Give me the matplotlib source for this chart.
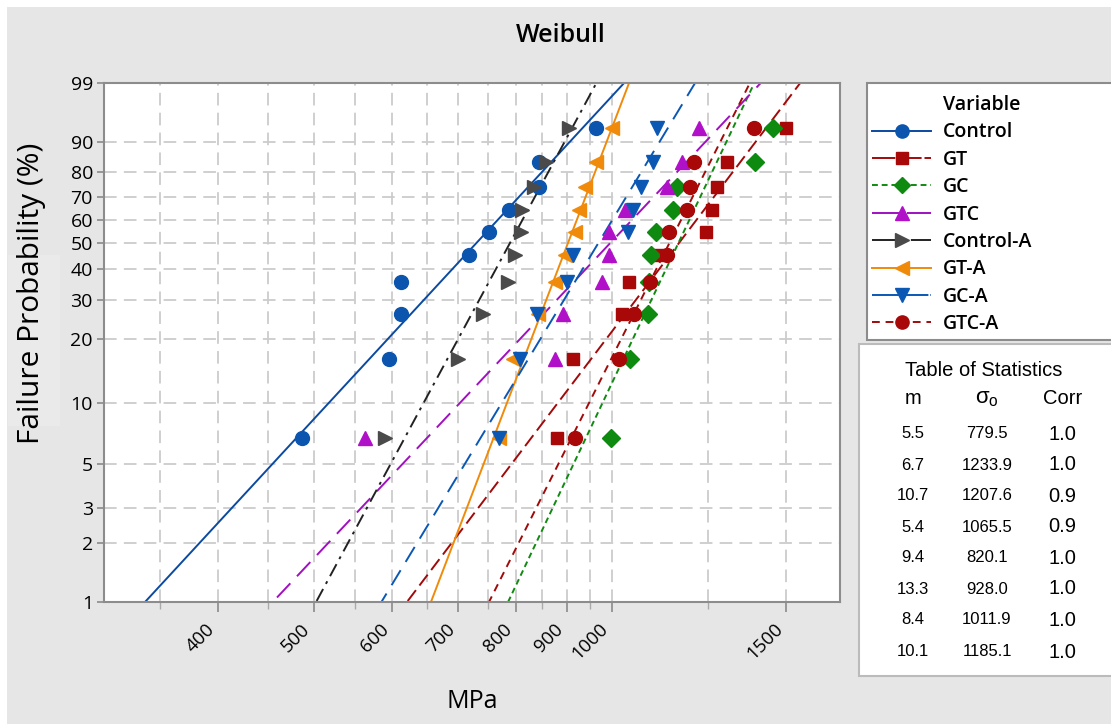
import numpy as np
import matplotlib
matplotlib.use('Agg')
import matplotlib.pyplot as plt
from matplotlib.lines import Line2D
from matplotlib.patches import Rectangle
from matplotlib.ticker import FixedLocator, FixedFormatter, NullFormatter

# ---------------- data ----------------
variables = ['Control', 'GT', 'GC', 'GTC', 'Control-A', 'GT-A', 'GC-A', 'GTC-A']
prob = [6.7, 16.3, 26.0, 35.6, 45.2, 54.8, 64.4, 74.0, 83.7, 93.3]
control = [486, 596, 612, 612, 718, 752, 787, 845, 845, 965]
gt = [880, 913, 1023, 1040, 1117, 1245, 1262, 1276, 1306, 1500]
gc = [997, 1043, 1088, 1091, 1095, 1107, 1154, 1164, 1394, 1455]
gtc = [563, 876, 893, 977, 993, 993, 1030, 1137, 1176, 1224]
control_a = [590, 700, 741, 786, 799, 810, 812, 835, 858, 906]
gt_a = [769, 794, 843, 877, 897, 918, 927, 940, 963, 1000]
gc_a = [770, 808, 841, 901, 913, 1038, 1051, 1069, 1100, 1111]
gtc_a = [917, 1016, 1054, 1094, 1138, 1141, 1190, 1200, 1212, 1392]
shape_m = [5.5, 6.7, 10.7, 5.4, 9.4, 13.3, 8.4, 10.1]
scale_s0 = [779.5, 1233.9, 1207.6, 1065.5, 820.1, 928.0, 1011.9, 1185.1]
corr = [1.0, 1.0, 0.9, 0.9, 1.0, 1.0, 1.0, 1.0]
x_major = [400, 500, 600, 700, 800, 900, 1000, 1500]
x_minor = [350, 450, 550, 650, 750, 850, 950, 1250]
y_ticks = [1, 2, 3, 5, 10, 20, 30, 40, 50, 60, 70, 80, 90, 99]

series = [control, gt, gc, gtc, control_a, gt_a, gc_a, gtc_a]

# ---------------- styles ----------------
marker_colors = ['#0B55AE', '#A80808', '#0E8A10', '#B010C8', '#4A4A4A', '#F08A0A', '#0B58B4', '#A80808']
line_colors = ['#0B4AA0', '#A00A0A', '#108A10', '#A010C0', '#222222', '#F08A0A', '#0B58B4', '#A00A0A']
markers = ['o', 's', 'D', '^', '>', '<', 'v', 'o']
msizes = [10, 9, 9, 10.5, 10.5, 10.5, 10.5, 10]
dashes = [None, (7, 3), (3, 2), (10, 5), (7, 3, 1.5, 3), None, (9, 5), (4, 3)]
leg_dashes = [None, (12, 1.5), (3, 2), (14, 4), (14, 2, 2, 2), None, (14, 1), (4, 3)]

plt.rcParams['font.family'] = ['Open Sans', 'DejaVu Sans']

W, H = 1111, 724
fig = plt.figure(figsize=(W / 100, H / 100), dpi=100, facecolor='white')

def fx(px):
    return px / W

def fy(py):
    return 1 - py / H

# gray background with white strip on top/left
fig.patches.append(Rectangle((fx(7), 0), 1 - fx(7), fy(7), transform=fig.transFigure,
                             facecolor='#E6E6E6', edgecolor='none', zorder=-10))
fig.patches.append(Rectangle((fx(8), fy(426)), fx(52), fy(255) - fy(426), transform=fig.transFigure,
                             facecolor='#EAEAEA', edgecolor='none', zorder=-9))

ax = fig.add_axes([fx(104), fy(602), fx(840) - fx(104), fy(83) - fy(602)])
ax.set_facecolor('white')


def fwd(p):
    p = np.clip(np.asarray(p, dtype=float), 1e-6, 100 - 1e-6)
    return np.log(-np.log(1 - p / 100.0))


def inv(y):
    return 100.0 * (1 - np.exp(-np.exp(np.asarray(y, dtype=float))))


ax.set_xscale('log')
ax.set_yscale('function', functions=(fwd, inv))
ax.set_xlim(307, 1700)
ax.set_ylim(1, 99)

# grid
for v in sorted(x_major + x_minor):
    ax.axvline(v, color='#CCCCCC', lw=1.3, dashes=(7, 4), zorder=0)
for v in y_ticks[1:-1]:
    ax.axhline(v, color='#CCCCCC', lw=1.3, dashes=(7, 4), zorder=0)

# fitted lines
p_line = np.concatenate([np.linspace(0.2, 99, 300), [99.5, 99.9]])
for i in range(len(variables)):
    xs = scale_s0[i] * (-np.log(1 - p_line / 100.0)) ** (1.0 / shape_m[i])
    ln, = ax.plot(xs, p_line, color=line_colors[i], lw=1.4, zorder=2)
    if dashes[i] is not None:
        ln.set_dashes(dashes[i])

# points
for i, vals in enumerate(series):
    ax.plot(vals, prob, ls='none', marker=markers[i], ms=msizes[i],
            color=marker_colors[i], mec=marker_colors[i], zorder=3)

# ticks
ax.xaxis.set_major_locator(FixedLocator(x_major))
ax.xaxis.set_major_formatter(FixedFormatter([str(v) for v in x_major]))
ax.xaxis.set_minor_locator(FixedLocator(x_minor))
ax.xaxis.set_minor_formatter(NullFormatter())
ax.yaxis.set_major_locator(FixedLocator(y_ticks))
ax.yaxis.set_major_formatter(FixedFormatter([str(v) for v in y_ticks]))
ax.yaxis.set_minor_locator(FixedLocator([]))
ax.tick_params(axis='x', which='major', length=7, width=1.2, color='#8A8A8A',
               labelsize=13.5, pad=6)
ax.tick_params(axis='x', which='minor', length=5, width=1.0, color='#AAAAAA')
ax.tick_params(axis='y', which='major', length=5, width=1.2, color='#8A8A8A',
               labelsize=14, pad=3)
for lab in ax.get_xticklabels():
    lab.set_rotation(45)
    lab.set_ha('right')
    lab.set_va('top')

for s in ax.spines.values():
    s.set_color('#8C8C8C')
    s.set_linewidth(1.5)

fig.text(fx(472), fy(702), 'MPa', ha='center', va='center', fontsize=18)
fig.text(fx(32), fy(293), 'Failure Probability (%)', ha='center', va='center',
         rotation=90, fontsize=21.5)
fig.text(0.505, fy(36), 'Weibull', ha='center', va='center', fontsize=18, fontweight='semibold')

# ---------------- legend ----------------
fig.patches.append(Rectangle((fx(867), fy(340)), 1 - fx(867) + 0.01, fy(83) - fy(340),
                             transform=fig.transFigure, facecolor='white',
                             edgecolor='#8C8C8C', lw=1.5, zorder=1))
handles = [Line2D([], [], ls='none')]
labels = ['Variable']
for i, name in enumerate(variables):
    h = Line2D([], [], color=line_colors[i], lw=1.4, marker=markers[i], ms=msizes[i] * 0.95,
               mfc=marker_colors[i], mec=marker_colors[i])
    if leg_dashes[i] is not None:
        h.set_dashes(leg_dashes[i])
    handles.append(h)
    labels.append(name)
leg = fig.legend(handles, labels, loc='upper left', bbox_to_anchor=(fx(872), fy(95)),
                 frameon=False, handlelength=3.05, handletextpad=0.6,
                 labelspacing=0.38, borderaxespad=0, borderpad=0,
                 prop={'weight': 'semibold', 'size': 14})

# ---------------- table of statistics ----------------
fig.patches.append(Rectangle((fx(859), fy(676)), 1 - fx(859) + 0.01, fy(344) - fy(676),
                             transform=fig.transFigure, facecolor='white',
                             edgecolor='#BBBBBB', lw=1.5, zorder=1))
tfont = ['Liberation Sans', 'DejaVu Sans']
fig.text(fx(984), fy(370), 'Table of Statistics', ha='center', va='center', fontsize=14.5, family=tfont)
fig.text(fx(913), fy(399), 'm', ha='center', va='center', fontsize=14.5, family=tfont)
fig.text(fx(987), fy(399), r'$\mathregular{\sigma_o}$', ha='center', va='center', fontsize=16, family=tfont)
fig.text(fx(1063), fy(399), 'Corr', ha='center', va='center', fontsize=14.5, family=tfont)
row_y = [434, 465, 496, 527, 558, 589, 620, 652]
for k in range(len(shape_m)):
    fig.text(fx(913), fy(row_y[k]), f'{shape_m[k]:.1f}', ha='center', va='center', fontsize=12, family=tfont)
    fig.text(fx(987), fy(row_y[k]), f'{scale_s0[k]:.1f}', ha='center', va='center', fontsize=12, family=tfont)
    fig.text(fx(1062), fy(row_y[k]), f'{corr[k]:.1f}', ha='center', va='center', fontsize=14.5, family=tfont)

fig.savefig('out.png', dpi=100, facecolor=fig.get_facecolor())
